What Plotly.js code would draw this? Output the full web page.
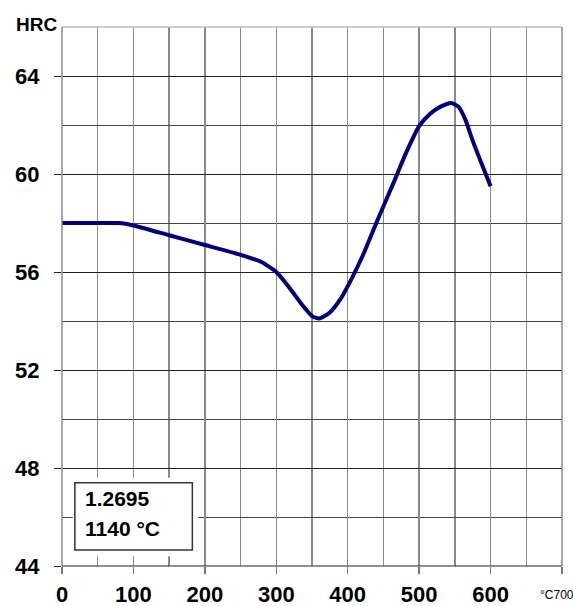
<!DOCTYPE html>
<html>
<head>
<meta charset="utf-8">
<script src="https://cdn.plot.ly/plotly-3.0.1.min.js"></script>
<style>html,body{margin:0;padding:0;background:#fff;}#chart{width:573px;height:606px;}</style>
</head>
<body>
<div id="chart"></div>
<script>
// Tempering temperature (°C) and hardness (HRC)
const temperature = [0, 50, 80, 100, 150, 200, 250, 280, 300, 320, 335, 350, 360, 375, 390, 405, 420, 440, 465, 480, 500, 515, 530, 545, 555, 565, 575, 600];
const hardness    = [58.0, 58.0, 58.0, 57.9, 57.5, 57.1, 56.7, 56.4, 56.0, 55.3, 54.7, 54.2, 54.1, 54.35, 54.9, 55.7, 56.6, 58.0, 59.7, 60.75, 61.95, 62.45, 62.75, 62.9, 62.75, 62.2, 61.35, 59.5];
const xTickVals = [0, 100, 200, 300, 400, 500, 600, 700];
const xTickText = ['0', '100', '200', '300', '400', '500', '600', ''];
const yTickVals = [44, 48, 52, 56, 60, 64];
const yTickText = ['44', '48', '52', '56', '60', '64'];
const boxLines = ['1.2695', '1140 °C'];

const FONT = 'Liberation Sans, Arial, sans-serif';

const trace = {
  x: temperature, y: hardness, type: 'scatter', mode: 'lines',
  line: {color: '#00007f', width: 4, shape: 'spline', smoothing: 0.55},
  hoverinfo: 'skip'
};

const layout = {
  width: 573, height: 606,
  margin: {l: 62, r: 11, t: 27, b: 40},
  paper_bgcolor: '#ffffff', plot_bgcolor: '#ffffff',
  showlegend: false,
  xaxis: {
    range: [0, 700], tickvals: xTickVals, ticktext: xTickText,
    ticks: 'outside', ticklen: 7, tickcolor: '#777', tickwidth: 1.5,
    showgrid: true, gridcolor: '#8a8a8a', gridwidth: 1.5,
    minor: {dtick: 50, tick0: 0, showgrid: true, gridcolor: '#8a8a8a', gridwidth: 1.5, ticks: ''},
    zeroline: false, showline: false,
    tickfont: {family: FONT, size: 22, color: '#000', weight: 'bold'},
    ticklabelstandoff: 2,
    fixedrange: true
  },
  yaxis: {
    range: [44, 66], tickvals: yTickVals, ticktext: yTickText,
    ticks: 'outside', ticklen: 7, tickcolor: '#222', tickwidth: 1,
    showgrid: true, gridcolor: '#222', gridwidth: 1,
    minor: {dtick: 2, tick0: 44, showgrid: true, gridcolor: '#444', gridwidth: 1, ticks: ''},
    zeroline: false, showline: false,
    tickfont: {family: FONT, size: 22, color: '#000', weight: 'bold'},
    ticklabelstandoff: 10,
    fixedrange: true
  },
  shapes: [
    {type: 'line', xref: 'paper', yref: 'paper', x0: 0, x1: 1, y0: 1, y1: 1, line: {color: '#bbbbbb', width: 1.5}},
    {type: 'line', xref: 'paper', yref: 'paper', x0: 0, x1: 0, y0: 0, y1: 1, line: {color: '#8a8a8a', width: 1.5}},
    {type: 'line', xref: 'paper', yref: 'paper', x0: 1, x1: 1, y0: 0, y1: 1, line: {color: '#8a8a8a', width: 1.5}},
    {type: 'line', xref: 'paper', yref: 'paper', x0: 0, x1: 1, y0: 0, y1: 0, line: {color: '#222', width: 1}},
    {type: 'rect', xref: 'x', yref: 'y', x0: 15, x1: 190.5, y0: 44.4, y1: 47.6, layer: 'between', fillcolor: '#ffffff', line: {width: 0}},
    {type: 'rect', xref: 'x', yref: 'y', x0: 18, x1: 182.5, y0: 44.65, y1: 47.4, layer: 'between', fillcolor: '#ffffff', line: {color: '#333', width: 1.5}}
  ],
  annotations: [
    {text: 'HRC', xref: 'paper', yref: 'paper', x: -0.006, y: 1.004, xanchor: 'right', yanchor: 'middle', showarrow: false,
     font: {family: FONT, size: 19, color: '#000', weight: 'bold'}},
    {text: '°C700', xref: 'paper', yref: 'paper', x: 0.951, y: -0.054, xanchor: 'left', yanchor: 'middle', showarrow: false,
     font: {family: FONT, size: 12, color: '#000'}},
    {text: boxLines[0], xref: 'x', yref: 'y', x: 29.4, y: 46.74, xanchor: 'left', yanchor: 'middle', showarrow: false,
     font: {family: FONT, size: 21, color: '#000', weight: 'bold'}},
    {text: boxLines[1], xref: 'x', yref: 'y', x: 29.4, y: 45.52, xanchor: 'left', yanchor: 'middle', showarrow: false,
     font: {family: FONT, size: 21, color: '#000', weight: 'bold'}}
  ]
};

Plotly.newPlot('chart', [trace], layout, {displayModeBar: false, staticPlot: true});
</script>
</body>
</html>
